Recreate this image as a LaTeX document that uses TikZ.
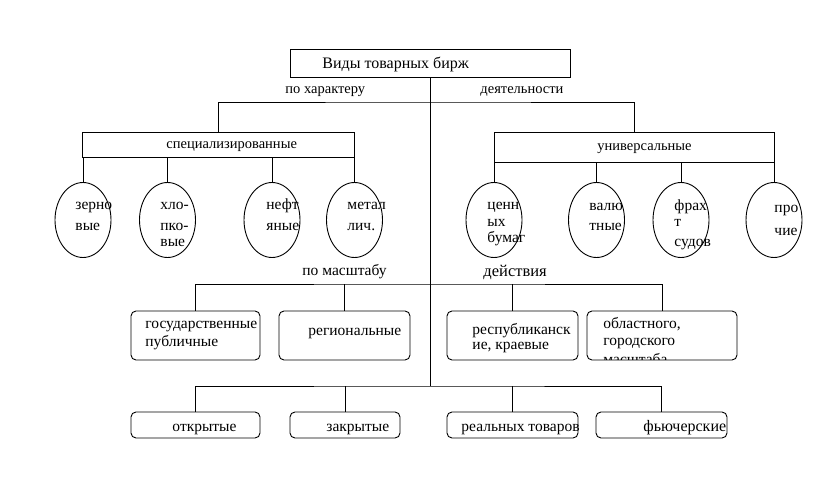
\documentclass[tikz,border=0pt]{standalone}
\usepackage{fontspec}
\setmainfont{Liberation Serif}
\usetikzlibrary{shapes.geometric}
\begin{document}
\begin{tikzpicture}[x=1pt,y=-1pt,line width=0.9pt,
  txt/.style={inner sep=0pt,anchor=base west,font=\fontsize{15.5}{18}\selectfont},
  stxt/.style={txt,font=\fontsize{14.5}{17}\selectfont},
  ttxt/.style={txt,font=\fontsize{16}{19}\selectfont},
  frame/.style={draw,rectangle,inner sep=0pt},
  oval/.style={draw,ellipse,inner sep=0pt,minimum width=56pt,minimum height=75pt},
  rbox/.style={draw,rectangle,rounded corners=5pt,inner sep=0pt}]
\useasboundingbox (0,0) rectangle (818,486);

% top
\node[frame,minimum width=280pt,minimum height=28pt] (top) at (430,63) {};
\node[ttxt] (ttop) at (322,69) {Виды товарных бирж};

% first level boxes
\node[frame,minimum width=272pt,minimum height=25pt] (spec) at (218.5,144.5) {};
\node[frame,minimum width=280pt,minimum height=30pt] (univ) at (634,147) {};
\node[stxt] (tspec) at (166,149) {специализированные};
\node[stxt] (tuniv) at (597,151) {универсальные};

% ellipses
\node[oval] (e1) at (83,220) {};
\node[oval] (e2) at (167.5,220) {};
\node[oval] (e3) at (272,220) {};
\node[oval] (e4) at (354.5,220) {};
\node[oval] (e5) at (494,220) {};
\node[oval] (e6) at (596.5,220) {};
\node[oval] (e7) at (681,220) {};
\node[oval] (e8) at (774,220) {};

% middle boxes
\node[rbox,minimum width=129pt,minimum height=49pt] (m1) at (195.5,335.5) {};
\node[rbox,minimum width=131pt,minimum height=49pt] (m2) at (344.5,335.5) {};
\node[rbox,minimum width=131pt,minimum height=49pt] (m3) at (512.5,335.5) {};
\node[rbox,minimum width=150pt,minimum height=49pt] (m4) at (662,335.5) {};

% bottom boxes
\node[rbox,minimum width=129pt,minimum height=26pt] (o1) at (195.5,425) {};
\node[rbox,minimum width=110pt,minimum height=26pt] (o2) at (345,425) {};
\node[rbox,minimum width=131pt,minimum height=26pt] (o3) at (512.5,425) {};
\node[rbox,minimum width=131pt,minimum height=26pt] (o4) at (661.5,425) {};

% junction coordinates
\coordinate (h1) at (430,102);
\coordinate (h2) at (430,284);
\coordinate (h3) at (430,386);

% connectors
\draw (top.south) -- (h3);
\draw (spec.north) |- (h1) -| (univ.north);
\foreach \e in {e1,e2,e3,e4} \draw (\e.north) -- (\e.north |- spec.south);
\foreach \e in {e5,e6,e7,e8} \draw (\e.north) -- (\e.north |- univ.south);
\draw (m1.north) |- (h2) -| (m4.north);
\draw (m2.north) -- (m2.north |- h2);
\draw (m3.north) -- (m3.north |- h2);
\draw (o1.north) |- (h3) -| (o4.north);
\draw (o2.north) -- (o2.north |- h3);
\draw (o3.north) -- (o3.north |- h3);

% branch labels
\node[stxt] (l1) at (285,94) {по характеру};
\node[stxt] (l2) at (480,94) {деятельности};
\node[txt] (l3) at (302,275) {по масштабу};
\node[txt,font=\fontsize{16.5}{18}\selectfont] (l4) at (483,276) {действия};

% ellipse texts
\node[txt] (a1) at (75,210) {зерно};
\node[txt] (a2) at (75,230) {вые};
\node[txt] (b1) at (160,210) {хло-};
\node[txt] (b2) at (160,230) {пко-};
\node[txt] (b3) at (160,246) {вые};
\node[txt] (c1) at (266,210) {нефт};
\node[txt] (c2) at (266,230) {яные};
\node[txt] (d1) at (347,210) {метал};
\node[txt] (d2) at (347,230) {лич.};
\node[txt] (f1) at (487,210) {ценн};
\node[txt] (f2) at (487,226) {ых};
\node[txt] (f3) at (487,242) {бумаг};
\node[txt] (g1) at (589,211) {валю};
\node[txt] (g2) at (589,230) {тные};
\node[txt] (k1) at (674,211) {фрах};
\node[txt] (k2) at (674,226) {т};
\node[txt] (k3) at (674,246) {судов};
\node[txt] (p1) at (774,213) {про};
\node[txt] (p2) at (774,235) {чие};

% middle box texts
\node[txt] (n1) at (145,328) {государственные};
\node[txt] (n2) at (145,346) {публичные};
\node[txt] (n3) at (308,335) {региональные};
\node[txt] (n4) at (472,334) {республиканск};
\node[txt] (n5) at (472,349) {ие, краевые};
\node[txt] (n6) at (603,328) {областного,};
\node[txt] (n7) at (603,345) {городского};
\begin{scope}
\clip (588,312) rectangle (736,359.5);
\node[txt] (n8) at (603,364) {масштаба};
\end{scope}

% bottom texts
\node[txt] (q1) at (172,431) {открытые};
\node[txt] (q2) at (326,431) {закрытые};
\node[txt] (q3) at (461,431) {реальных товаров};
\node[txt,font=\fontsize{16}{18}\selectfont] (q4) at (643,431) {фьючерские};
\end{tikzpicture}
\end{document}
